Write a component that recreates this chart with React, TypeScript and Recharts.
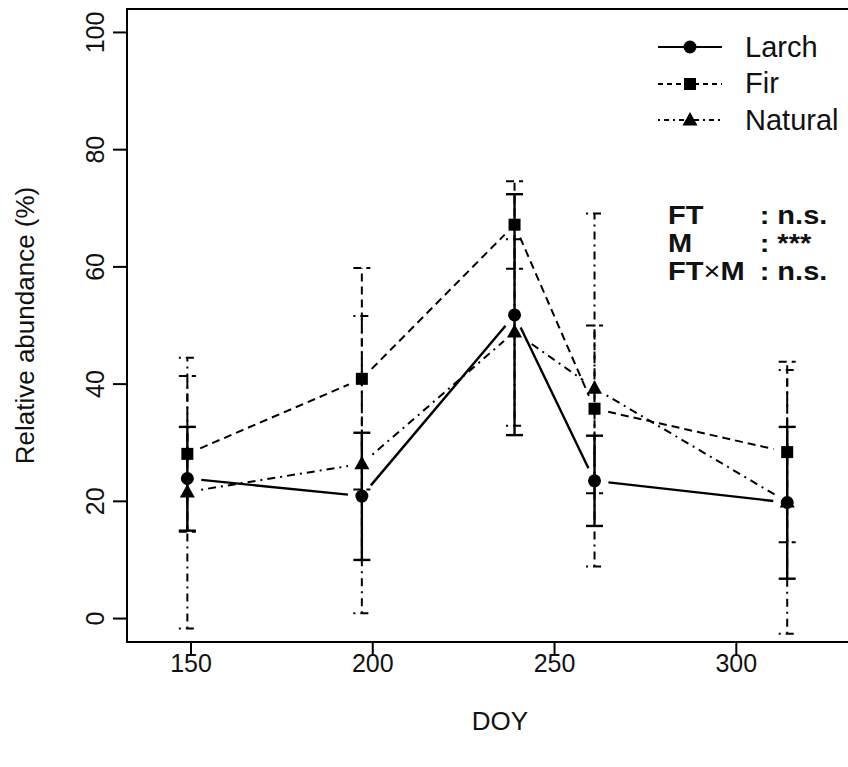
import React from 'react';
import { ComposedChart, Scatter, XAxis, YAxis, ErrorBar, ReferenceArea } from 'recharts';

const doy = [149, 197, 239, 261, 314];
const larchMean = [23.9, 20.9, 51.8, 23.5, 19.8];
const larchLow = [15.0, 10.0, 31.3, 15.8, 6.8];
const larchHigh = [32.7, 31.7, 72.4, 31.2, 32.7];
const firMean = [28.1, 40.9, 67.2, 35.8, 28.4];
const firLow = [14.8, 22.0, 59.7, 21.4, 13.0];
const firHigh = [41.4, 59.8, 74.6, 50.0, 43.8];
const natMean = [21.6, 26.4, 48.9, 39.3, 19.9];
const natLow = [-1.7, 0.9, 32.9, 8.9, -2.6];
const natHigh = [44.5, 51.6, 64.7, 69.1, 42.4];

const xTicks = [150, 200, 250, 300];
const yTicks = [0, 20, 40, 60, 80, 100];
const xDomain: [number, number] = [132.4, 337.6];
const yDomain: [number, number] = [-4, 104];

const seriesNames = ['Larch', 'Fir', 'Natural'];
const statLabels = ['FT', 'M', 'FT×M'];
const statValues = ['n.s.', '***', 'n.s.'];

const data = doy.map((d, i) => ({
  doy: d,
  larch: larchMean[i],
  fir: firMean[i],
  natural: natMean[i],
  larchErr: [larchMean[i] - larchLow[i], larchHigh[i] - larchMean[i]],
  firErr: [firMean[i] - firLow[i], firHigh[i] - firMean[i]],
  natErr: [natMean[i] - natLow[i], natHigh[i] - natMean[i]],
}));

// chart layout
const CHART_W = 900;
const CHART_H = 767;
const MARGIN = { top: 9, right: 27, bottom: 0, left: 0 };
const Y_AXIS_W = 127;
const X_AXIS_H = 125;
const PLOT_W = CHART_W - MARGIN.left - MARGIN.right - Y_AXIS_W;
const PLOT_H = CHART_H - MARGIN.top - MARGIN.bottom - X_AXIS_H;
const PX_X = PLOT_W / (xDomain[1] - xDomain[0]);
const PX_Y = PLOT_H / (yDomain[1] - yDomain[0]);
const GAP = 14; // R type="b" gap around points, in px

// connecting segments between consecutive means, shortened at both ends like R's type = "b"
function segments(means: number[]) {
  const segs: { doy: number; v: number }[][] = [];
  for (let i = 0; i < doy.length - 1; i++) {
    const x1 = doy[i], y1 = means[i], x2 = doy[i + 1], y2 = means[i + 1];
    const L = Math.hypot((x2 - x1) * PX_X, (y2 - y1) * PX_Y);
    const f = GAP / L;
    segs.push([
      { doy: x1 + f * (x2 - x1), v: y1 + f * (y2 - y1) },
      { doy: x2 - f * (x2 - x1), v: y2 - f * (y2 - y1) },
    ]);
  }
  return segs;
}

const FONT = '"Liberation Sans", Arial, Helvetica, sans-serif';
const DASH = '8 5';
const DOTDASH = '2 5 8 5';

const circleShape = (p: any) => <circle cx={p.cx} cy={p.cy} r={6.5} fill="#000" />;
const squareShape = (p: any) => <rect x={p.cx - 6} y={p.cy - 6} width={12} height={12} fill="#000" />;
const triShape = (p: any) => (
  <polygon points={`${p.cx},${p.cy - 8} ${p.cx - 7.5},${p.cy + 5.5} ${p.cx + 7.5},${p.cy + 5.5}`} fill="#000" />
);
const emptyShape = () => <g />;

const lineSeries = [
  { key: 'larch', means: larchMean, style: { stroke: '#000', strokeWidth: 2.4 } },
  { key: 'fir', means: firMean, style: { stroke: '#000', strokeWidth: 2, strokeDasharray: DASH } },
  { key: 'natural', means: natMean, style: { stroke: '#000', strokeWidth: 2, strokeDasharray: DOTDASH } },
];

const XTick = (p: any) => (
  <text x={p.x} y={p.y + 14} textAnchor="middle" fontSize={25} fontFamily={FONT} fill="#111">
    {p.payload.value}
  </text>
);
const YTick = (p: any) => {
  const x = p.x - 7;
  return (
    <text x={x} y={p.y} transform={`rotate(-90 ${x} ${p.y})`} textAnchor="middle" fontSize={25} fontFamily={FONT} fill="#111">
      {p.payload.value}
    </text>
  );
};

const YLabel = (props: any) => {
  const vb = props.viewBox || { x: 0, y: 9, width: 127, height: 633 };
  const cy = vb.y + vb.height / 2;
  const x = vb.x + 34;
  return (
    <text x={x} y={cy} transform={`rotate(-90 ${x} ${cy})`} textAnchor="middle" fontSize={26} fontFamily={FONT} fill="#111">
      Relative abundance (%)
    </text>
  );
};
const XLabel = (props: any) => {
  const vb = props.viewBox || { x: 127, y: 642, width: 746, height: 125 };
  const cx = vb.x + vb.width / 2;
  return (
    <text x={cx} y={vb.y + 88} textAnchor="middle" fontSize={26} fontFamily={FONT} fill="#111">
      DOY
    </text>
  );
};

const legendStyles = [
  { dash: undefined as string | undefined, marker: 'circle' },
  { dash: '5 4', marker: 'square' },
  { dash: '2 4 5 4', marker: 'tri' },
];

const LegendSample = ({ dash, marker }: { dash?: string; marker: string }) => (
  <svg width={64} height={24} style={{ display: 'block' }}>
    <line x1={0} y1={12} x2={64} y2={12} stroke="#000" strokeWidth={2} strokeDasharray={dash} />
    {marker === 'circle' && <circle cx={32} cy={12} r={6.5} fill="#000" />}
    {marker === 'square' && <rect x={26} y={6} width={12} height={12} fill="#000" />}
    {marker === 'tri' && <polygon points="32,4 24.5,17.5 39.5,17.5" fill="#000" />}
  </svg>
);

export default function App() {
  return (
    <div style={{ position: 'absolute', left: 0, top: 0, width: 848, height: 767, overflow: 'hidden', background: '#fff' }}>
      <ComposedChart width={CHART_W} height={CHART_H} data={data} margin={MARGIN}>
        <XAxis
          dataKey="doy"
          type="number"
          domain={xDomain}
          ticks={xTicks}
          allowDataOverflow
          axisLine={false}
          tickSize={14}
          tickLine={{ stroke: '#000', strokeWidth: 2 }}
          tick={XTick}
          height={X_AXIS_H}
          label={XLabel}
        />
        <YAxis
          type="number"
          domain={yDomain}
          ticks={yTicks}
          allowDataOverflow
          axisLine={false}
          tickSize={14}
          tickLine={{ stroke: '#000', strokeWidth: 2 }}
          tick={YTick}
          width={Y_AXIS_W}
          label={YLabel}
        />
        <ReferenceArea x1={xDomain[0]} x2={xDomain[1]} y1={yDomain[0]} y2={yDomain[1]} fill="none" stroke="#000" strokeWidth={2} fillOpacity={0} ifOverflow="visible" />

        {lineSeries.map((s) =>
          segments(s.means).map((seg, j) => (
            <Scatter
              key={`${s.key}-seg-${j}`}
              name={`${s.key}-seg-${j}`}
              data={seg}
              dataKey="v"
              shape={emptyShape}
              line={s.style}
              lineType="joint"
              isAnimationActive={false}
            />
          ))
        )}

        <Scatter name="larchMark" dataKey="larch" shape={circleShape} isAnimationActive={false}>
          <ErrorBar dataKey="larchErr" width={8.5} stroke="#000" strokeWidth={2.4} direction="y" />
        </Scatter>
        <Scatter name="firMark" dataKey="fir" shape={squareShape} isAnimationActive={false}>
          <ErrorBar dataKey="firErr" width={8.5} stroke="#000" strokeWidth={2} strokeDasharray={DASH} direction="y" />
        </Scatter>
        <Scatter name="natMark" dataKey="natural" shape={triShape} isAnimationActive={false}>
          <ErrorBar dataKey="natErr" width={8.5} stroke="#000" strokeWidth={2} strokeDasharray={DOTDASH} direction="y" />
        </Scatter>
      </ComposedChart>

      <div style={{ position: 'absolute', left: 658, top: 29, fontFamily: FONT, fontSize: 29, color: '#111' }}>
        {seriesNames.map((n, i) => (
          <div key={n} style={{ display: 'flex', alignItems: 'center', height: 36.5 }}>
            <LegendSample dash={legendStyles[i].dash} marker={legendStyles[i].marker} />
            <span style={{ marginLeft: 23, lineHeight: 1 }}>{n}</span>
          </div>
        ))}
      </div>

      <div
        style={{
          position: 'absolute',
          left: 668,
          top: 201,
          fontFamily: FONT,
          fontSize: 25,
          fontWeight: 'bold',
          color: '#111',
          transform: 'scaleX(1.16)',
          transformOrigin: '0 0',
        }}
      >
        {statLabels.map((l, i) => (
          <div key={l} style={{ display: 'flex', height: 28, lineHeight: '28px' }}>
            <span style={{ width: 79, whiteSpace: 'nowrap' }}>
              {l.split('×').map((part, j, arr) => (
                <React.Fragment key={j}>
                  {part}
                  {j < arr.length - 1 && <span style={{ fontWeight: 'normal' }}>×</span>}
                </React.Fragment>
              ))}
            </span>
            <span style={{ whiteSpace: 'nowrap' }}>: {statValues[i]}</span>
          </div>
        ))}
      </div>
    </div>
  );
}
